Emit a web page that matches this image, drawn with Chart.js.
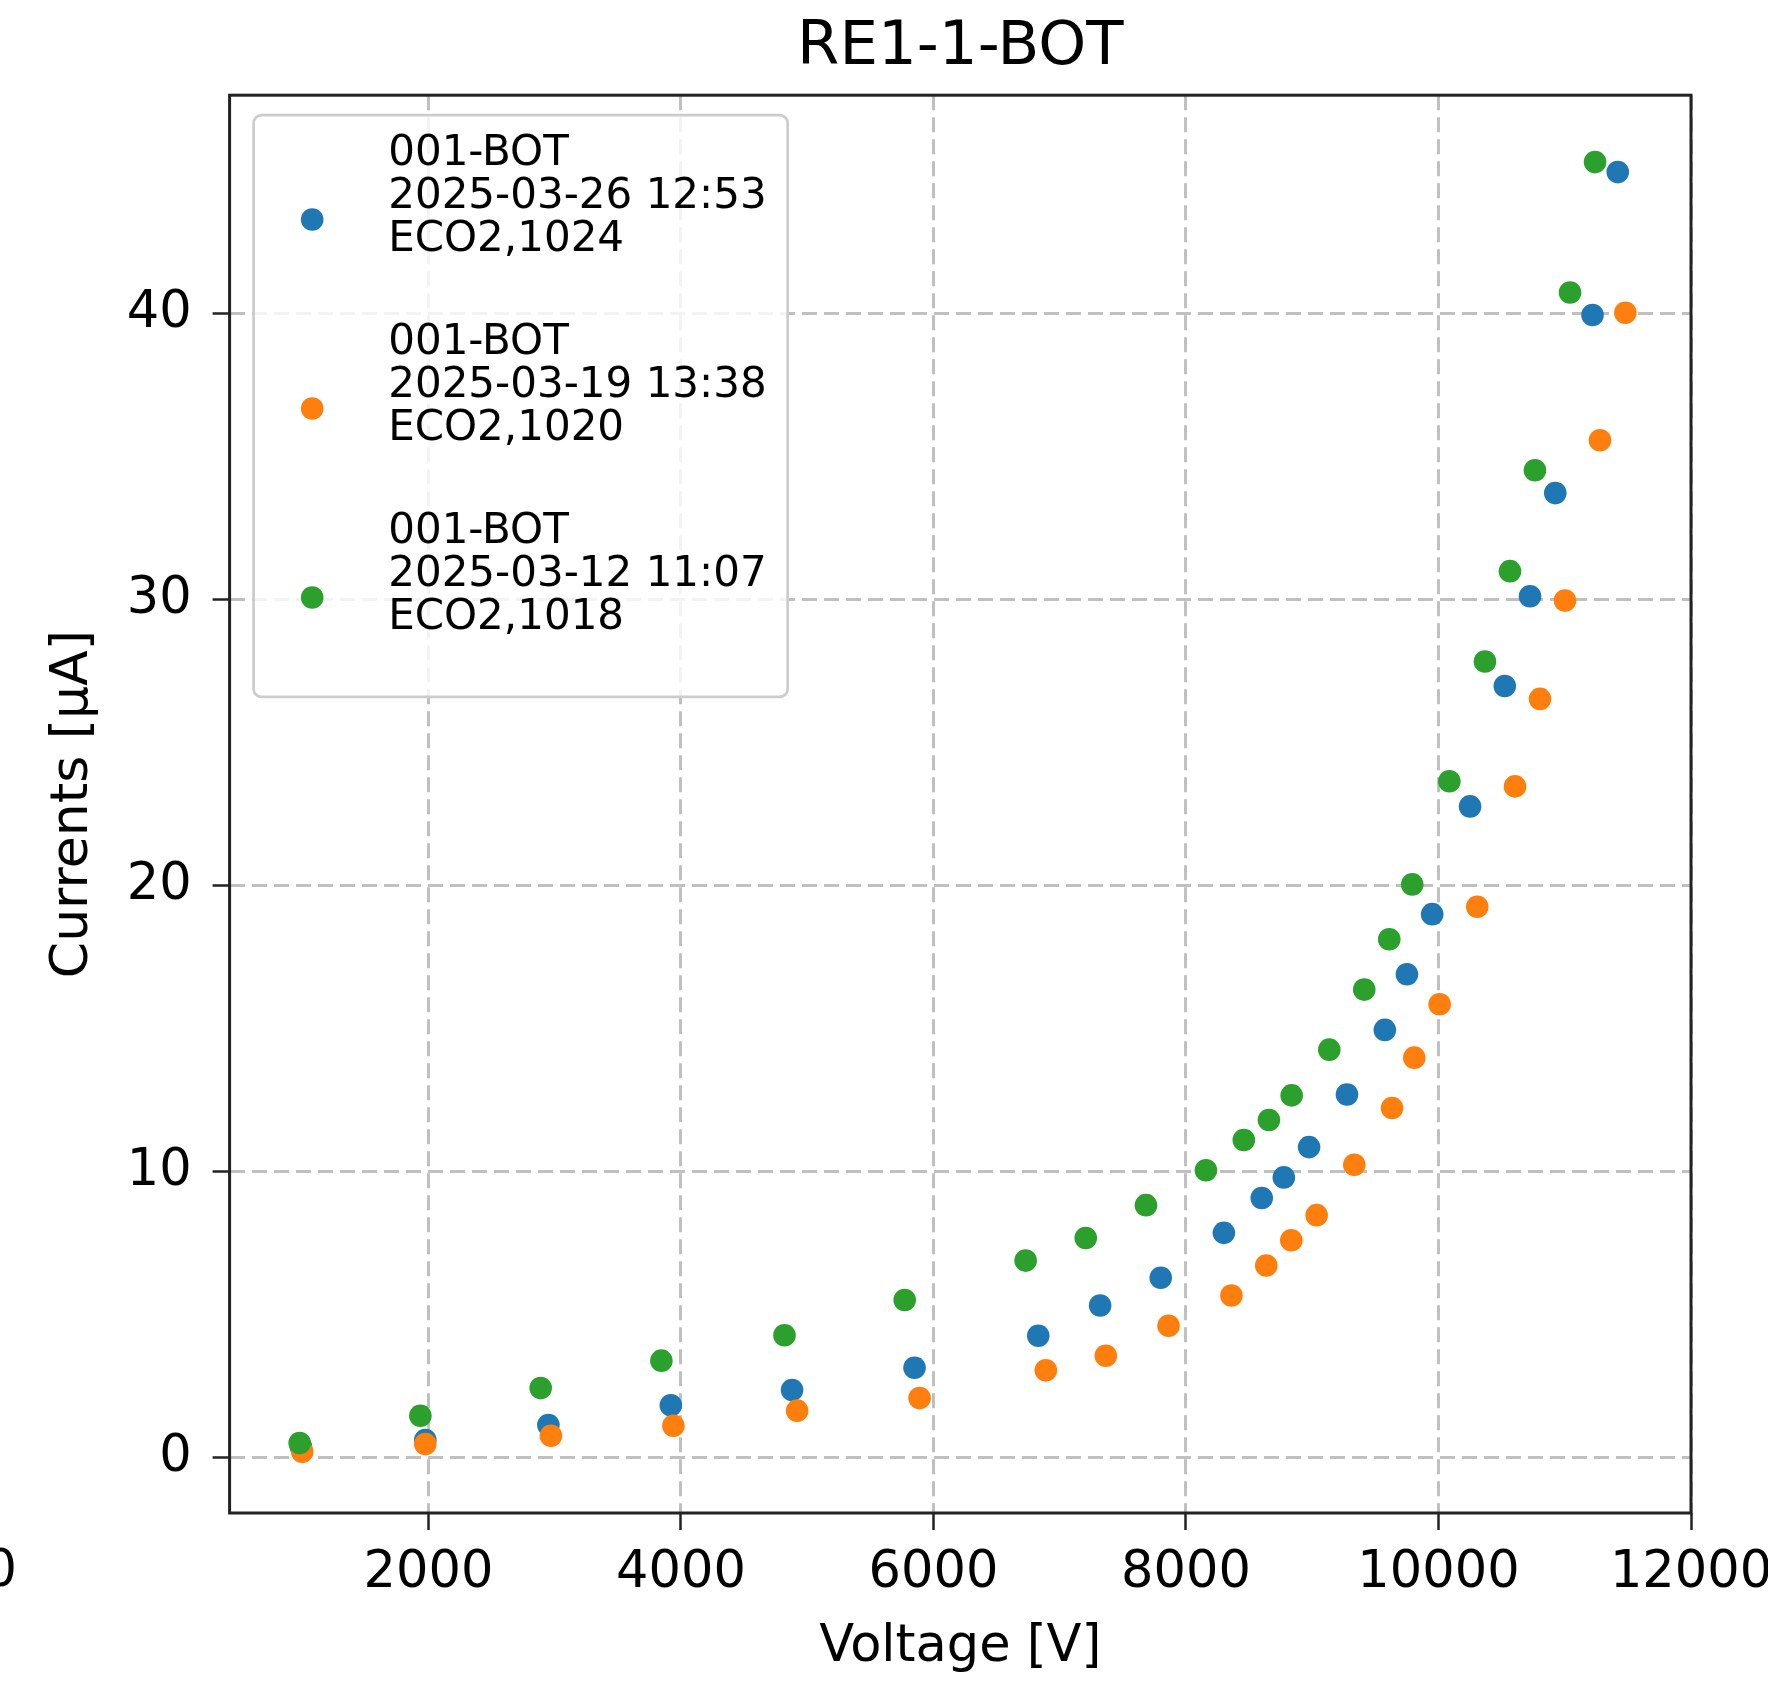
<!DOCTYPE html>
<html>
<head>
<meta charset="utf-8">
<script src="https://cdn.jsdelivr.net/npm/chart.js@4.4.1/dist/chart.umd.min.js"></script>
<style>
    body { margin: 0; background: #fff; }
</style>
</head>
<body>
<canvas id="chart" width="1768" height="1681"></canvas>
<script>
const chartTitle = "RE1-1-BOT";
const xLabel = "Voltage [V]";
const yLabel = "Currents [μA]";

const labels0326 = ["001-BOT", "2025-03-26 12:53", "ECO2,1024"];
const volts0326 = [990, 1975, 2950, 3920, 4880, 5850, 6830, 7320, 7800, 8300, 8600, 8775, 8975, 9275, 9575, 9750, 9950, 10250, 10525, 10725, 10925, 11220, 11420];
const currents0326 = [0.37, 0.60, 1.13, 1.82, 2.35, 3.13, 4.25, 5.31, 6.28, 7.85, 9.07, 9.79, 10.85, 12.69, 14.95, 16.90, 19.00, 22.77, 26.98, 30.12, 33.73, 39.96, 44.96];

const labels0319 = ["001-BOT", "2025-03-19 13:38", "ECO2,1020"];
const volts0319 = [1000, 1975, 2970, 3940, 4920, 5890, 6890, 7365, 7862, 8360, 8636, 8834, 9035, 9333, 9632, 9808, 10009, 10307, 10606, 10804, 11002, 11279, 11480];
const currents0319 = [0.19, 0.46, 0.75, 1.10, 1.63, 2.07, 3.04, 3.55, 4.60, 5.66, 6.71, 7.59, 8.47, 10.23, 12.22, 13.98, 15.85, 19.26, 23.47, 26.53, 29.97, 35.58, 40.04];

const labels0312 = ["001-BOT", "2025-03-12 11:07", "ECO2,1018"];
const volts0312 = [980, 1936, 2889, 3845, 4820, 5772, 6730, 7206, 7683, 8158, 8458, 8657, 8837, 9135, 9412, 9610, 9792, 10086, 10368, 10566, 10764, 11042, 11240];
const currents0312 = [0.50, 1.45, 2.42, 3.38, 4.27, 5.50, 6.88, 7.67, 8.82, 10.04, 11.10, 11.80, 12.66, 14.26, 16.36, 18.12, 20.04, 23.65, 27.84, 31.00, 34.53, 40.75, 45.31];

const xTicks = [2000, 4000, 6000, 8000, 10000, 12000];
const yTicks = [0, 10, 20, 30, 40];
const xRange = [425, 12000];
const yRange = [-1.95, 47.65];

Chart.defaults.font.family = "'DejaVu Sans', sans-serif";
Chart.defaults.color = "#000";

const toPoints = (xs, ys) => xs.map((x, i) => ({ x: x, y: ys[i] }));

const series = (labelLines, xs, ys, color, order) => ({
    label: labelLines,
    data: toPoints(xs, ys),
    backgroundColor: color,
    borderColor: color,
    pointRadius: 11.3,
    pointHoverRadius: 11.3,
    pointBorderWidth: 0,
    showLine: false,
    order: order
});

// matplotlib-like frame + legend inside the axes
const axesDecor = {
    id: 'axesDecor',
    afterDatasetsDraw(chart) {
        const { ctx, chartArea: a } = chart;
        ctx.save();
        ctx.strokeStyle = "#222";
        ctx.lineWidth = 3;
        ctx.strokeRect(a.left, a.top, a.right - a.left, a.bottom - a.top);

        const fontSize = 42;
        ctx.font = fontSize + "px 'DejaVu Sans'";
        const sets = chart.data.datasets;
        const textW = Math.max(...sets.flatMap(ds => ds.label.map(t => ctx.measureText(t).width)));
        const x0 = a.left + 24, y0 = a.top + 20;
        const lineGap = 42.7, entryGap = 189;
        const w = 134.6 + textW + 21;
        const h = 50 + entryGap * (sets.length - 1) + lineGap * 2 + 68.3;

        ctx.beginPath();
        ctx.roundRect(x0, y0, w, h, 8);
        ctx.fillStyle = "rgba(255,255,255,0.8)";
        ctx.fill();
        ctx.strokeStyle = "#cccccc";
        ctx.lineWidth = 2.7;
        ctx.stroke();

        sets.forEach((ds, i) => {
            const base = y0 + 50 + i * entryGap;
            ctx.beginPath();
            ctx.arc(x0 + 58.6, base + 54.3, 11.3, 0, Math.PI * 2);
            ctx.fillStyle = ds.backgroundColor;
            ctx.fill();
            ctx.fillStyle = "#000";
            ctx.textAlign = "left";
            ctx.textBaseline = "alphabetic";
            ds.label.forEach((t, k) => ctx.fillText(t, x0 + 134.6, base + k * lineGap));
        });

        // tail of the neighbouring panel's last tick label, cut by the crop
        ctx.font = "51px 'DejaVu Sans'";
        ctx.textAlign = "right";
        ctx.textBaseline = "middle";
        ctx.fillText("0", 17, 1573);
        ctx.restore();
    }
};

const gridOpts = {
    color: "#c0c0c0",
    lineWidth: 3,
    tickColor: "#222",
    tickWidth: 2.5,
    tickLength: 17
};

new Chart(document.getElementById("chart"), {
    type: 'scatter',
    data: {
        datasets: [
            series(labels0326, volts0326, currents0326, "#1f77b4", 3),
            series(labels0319, volts0319, currents0319, "#ff7f0e", 2),
            series(labels0312, volts0312, currents0312, "#2ca02c", 1)
        ]
    },
    options: {
        responsive: false,
        animation: false,
        layout: { padding: { left: 0, right: 77, top: 0, bottom: 0 } },
        plugins: {
            legend: { display: false },
            tooltip: { enabled: false },
            title: {
                display: true,
                text: chartTitle,
                fullSize: false,
                color: "#000",
                font: { size: 61, weight: 'normal' },
                padding: { top: 12, bottom: 10 }
            }
        },
        scales: {
            x: {
                type: 'linear',
                position: 'bottom',
                min: xRange[0],
                max: xRange[1],
                grid: gridOpts,
                border: { display: false, dash: [15, 7] },
                afterBuildTicks: s => { s.ticks = xTicks.map(v => ({ value: v })); },
                ticks: {
                    autoSkip: false,
                    maxRotation: 0,
                    padding: 13,
                    font: { size: 51 },
                    callback: v => String(v)
                },
                title: {
                    display: true,
                    text: xLabel,
                    font: { size: 51 },
                    padding: { top: 0, bottom: 3 }
                },
                afterFit: s => {
                    s.height = 168;
                    s.paddingLeft = 0;
                    s.paddingRight = 0;
                }
            },
            y: {
                type: 'linear',
                position: 'left',
                min: yRange[0],
                max: yRange[1],
                grid: gridOpts,
                border: { display: false, dash: [15, 7] },
                afterBuildTicks: s => { s.ticks = yTicks.map(v => ({ value: v })); },
                ticks: {
                    autoSkip: false,
                    padding: 21,
                    font: { size: 51 },
                    callback: v => String(v)
                },
                title: {
                    display: true,
                    text: yLabel,
                    font: { size: 52 },
                    padding: { top: 42, bottom: 0 }
                },
                afterFit: s => {
                    s.width = 229.6;
                    s.paddingTop = 0;
                    s.paddingBottom = 0;
                }
            }
        }
    },
    plugins: [axesDecor]
});
</script>
</body>
</html>
